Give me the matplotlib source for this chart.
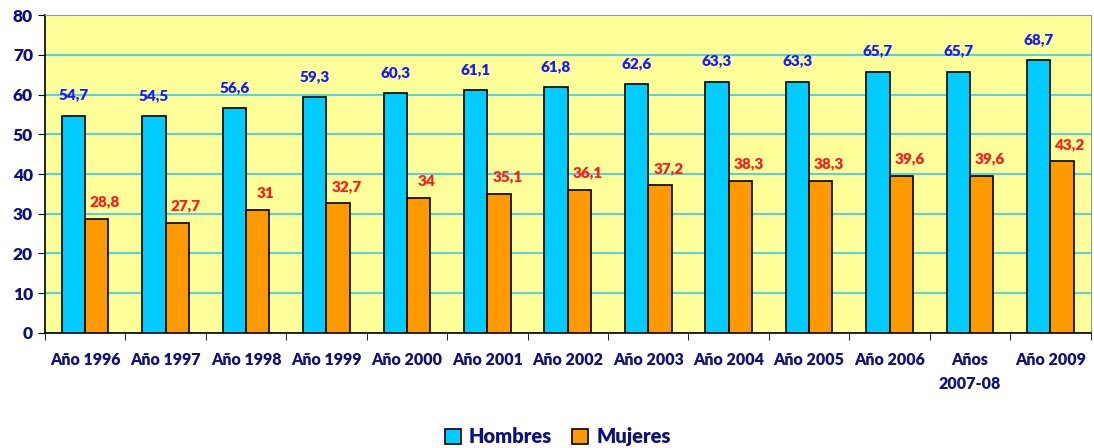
import numpy as np
import matplotlib.pyplot as plt

# datos
categorias = ['Año 1996', 'Año 1997', 'Año 1998', 'Año 1999', 'Año 2000', 'Año 2001',
              'Año 2002', 'Año 2003', 'Año 2004', 'Año 2005', 'Año 2006', 'Años\n2007-08',
              'Año 2009']
hombres = [54.7, 54.5, 56.6, 59.3, 60.3, 61.1, 61.8, 62.6, 63.3, 63.3, 65.7, 65.7, 68.7]
mujeres = [28.8, 27.7, 31, 32.7, 34, 35.1, 36.1, 37.2, 38.3, 38.3, 39.6, 39.6, 43.2]

navy = '#10107a'
peso = 'heavy'
plt.rcParams['font.family'] = ['Lato', 'DejaVu Sans']
plt.rcParams['font.weight'] = peso

fig = plt.figure(figsize=(10.94, 4.48), dpi=100)
ax = fig.add_axes([0.041, 0.257, 0.956, 0.709])
ax.set_facecolor('#ffff99')

x = np.arange(len(categorias))
w = 0.29
b1 = ax.bar(x - w/2, hombres, w, color='#00ccff', edgecolor='black', linewidth=1.2,
            label='Hombres', zorder=3)
b2 = ax.bar(x + w/2, mujeres, w, color='#ff9900', edgecolor='black', linewidth=1.2,
            label='Mujeres', zorder=3)

def fmt(v):
    s = ('%.1f' % v).rstrip('0').rstrip('.')
    return s.replace('.', ',')

for xi, v in zip(x, hombres):
    ax.annotate(fmt(v), (xi - w/2, v), xytext=(0, 15), textcoords='offset points',
                ha='center', va='center', color='#1a1aff', fontsize=11,
                fontweight=peso, zorder=4)
for xi, v in zip(x, mujeres):
    ax.annotate(fmt(v), (xi + w/2, v), xytext=(6, 12), textcoords='offset points',
                ha='center', va='center', color='#ff1a1a', fontsize=11,
                fontweight=peso, zorder=4)

ax.set_xlim(-0.5, len(categorias) - 0.5)
ax.set_ylim(0, 80)
ax.set_yticks(range(0, 81, 10))
ax.grid(axis='y', color='#33ccee', linewidth=1.2, zorder=1)

ax.set_xticks(x)
ax.set_xticklabels(categorias, color=navy, fontsize=11.5, fontweight=peso, va='top',
                   linespacing=1.6)
ax.set_xticks(np.arange(-0.5, len(categorias)), minor=True)
ax.tick_params(axis='x', which='major', length=0, pad=14)
ax.tick_params(axis='x', which='minor', length=5, direction='out', color='black')
ax.tick_params(axis='y', length=5, direction='out', labelsize=12.5, labelcolor=navy)
for lab in ax.get_yticklabels():
    lab.set_fontweight(peso)

ax.spines['left'].set_color('black')
ax.spines['bottom'].set_color('black')
ax.spines['left'].set_linewidth(1.2)
ax.spines['bottom'].set_linewidth(1.2)
ax.spines['top'].set_color('#8a9aa0')
ax.spines['right'].set_color('#8a9aa0')

leg = fig.legend(handles=[b1, b2], loc='center', bbox_to_anchor=(0.51, 0.025),
                 ncol=2, frameon=False, fontsize=14.5, handlelength=0.8,
                 handleheight=0.8, handletextpad=0.4, columnspacing=1.0)
for t in leg.get_texts():
    t.set_color(navy)
    t.set_fontweight(peso)

fig.savefig('out.png', dpi=100)
